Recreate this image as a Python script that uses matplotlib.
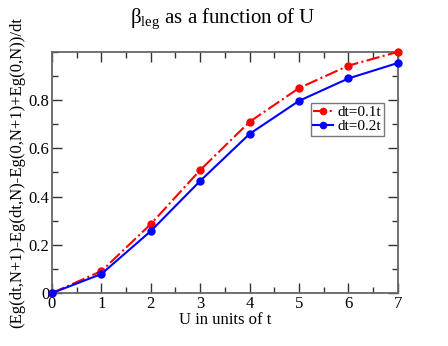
import matplotlib
matplotlib.use("Agg")
import matplotlib.pyplot as plt
from matplotlib.ticker import MultipleLocator, FixedLocator

U = [0, 1, 2, 3, 4, 5, 6, 7]
beta_dt01 = [0.0, 0.091, 0.286, 0.51, 0.71, 0.85, 0.943, 1.0]
beta_dt02 = [0.0, 0.079, 0.257, 0.465, 0.66, 0.797, 0.89, 0.954]
yticks = [0, 0.2, 0.4, 0.6, 0.8]
yticklabels = ["0", "0.2", "0.4", "0.6", "0.8"]

plt.rcParams['font.family'] = ['Liberation Serif', 'DejaVu Serif']
plt.rcParams['mathtext.fontset'] = 'custom'
plt.rcParams['mathtext.rm'] = 'Liberation Serif'

fig = plt.figure(figsize=(4.48, 3.46), dpi=100)
ax = fig.add_axes([0.116, 0.153, 0.772, 0.697])

ax.plot(U, beta_dt01, color='red', linestyle='-.', linewidth=1.5, marker='o', markersize=5, label='dt=0.1t', clip_on=False, zorder=3)
ax.plot(U, beta_dt02, color='blue', linestyle='-', linewidth=1.5, marker='o', markersize=5, label='dt=0.2t', clip_on=False, zorder=3)

ax.set_xlim(0, 7)
ax.set_ylim(0, 1)
ax.xaxis.set_major_locator(MultipleLocator(1))
ax.xaxis.set_minor_locator(MultipleLocator(0.5))
ax.yaxis.set_major_locator(FixedLocator(yticks))
ax.set_yticklabels(yticklabels)
ax.yaxis.set_minor_locator(MultipleLocator(0.1))
ax.tick_params(which='both', direction='in', top=True, right=True, labelsize=12, colors='#333333', labelcolor='black', pad=2)
ax.tick_params(which='major', length=7, width=1)
ax.tick_params(which='minor', length=4, width=1)
for s in ax.spines.values():
    s.set_color('#666666')
    s.set_linewidth(1.3)

ax.set_xlabel('U in units of t', fontsize=12, labelpad=0)
ax.set_ylabel('(Eg(dt,N+1)-Eg(dt,N)-Eg(0,N+1)+Eg(0,N))/dt', fontsize=12, labelpad=2)
fig.text(0.497, 0.945, r'β$_{\mathrm{leg}}$ as a function of U', ha='center', va='center', fontsize=15)

leg = ax.legend(loc='upper left', bbox_to_anchor=(0.749, 0.788), fontsize=11, frameon=True, fancybox=False,
                borderpad=0.15, handlelength=1.3, handletextpad=0.3, labelspacing=0.05, borderaxespad=0,
                markerscale=0.9)
leg.get_frame().set_edgecolor('#555555')
leg.get_frame().set_linewidth(1.0)

fig.savefig('out.png', dpi=100)
